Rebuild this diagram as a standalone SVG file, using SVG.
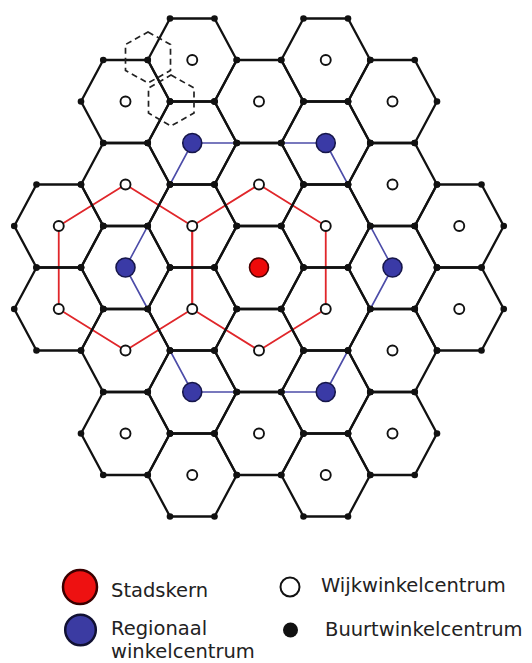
<svg xmlns="http://www.w3.org/2000/svg" width="532" height="663" viewBox="0 0 532 663">
<style>
.edge{fill:none;stroke:#111;stroke-width:2.3;stroke-linejoin:round}
.dot{fill:#111}
.wijk{fill:#fff;stroke:#111;stroke-width:1.9}
.reg{fill:#3a3aa6;stroke:#16164a;stroke-width:1.6}
.stad{fill:#ee0a0a;stroke:#4a0000;stroke-width:1.6}
.blue{fill:none;stroke:#4c4ca8;stroke-width:1.6;stroke-linejoin:round}
.red{fill:none;stroke:#e0262a;stroke-width:1.8;stroke-linejoin:round}
.dash{fill:none;stroke:#222;stroke-width:1.7;stroke-dasharray:6 4}
.lbl{font-family:"DejaVu Sans","Open Sans",sans-serif;font-size:19.5px;fill:#222}
</style>
<defs>
<g id="hex">
<polygon class="edge" points="-44.5,0 -22.25,-41.5 22.25,-41.5 44.5,0 22.25,41.5 -22.25,41.5"/>
<circle class="dot" cx="-44.5" cy="0" r="3.3"/>
<circle class="dot" cx="-22.25" cy="-41.5" r="3.3"/>
<circle class="dot" cx="22.25" cy="-41.5" r="3.3"/>
<circle class="dot" cx="44.5" cy="0" r="3.3"/>
<circle class="dot" cx="22.25" cy="41.5" r="3.3"/>
<circle class="dot" cx="-22.25" cy="41.5" r="3.3"/>
</g>
</defs>
<rect width="532" height="663" fill="#fff"/>

<g id="connectors">
<polygon class="blue" points="192.25,143 325.75,143 392.5,267.5 325.75,392 192.25,392 125.5,267.5"/>
<polygon class="red" points="58.75,226 125.5,184.5 192.25,226 192.25,309 125.5,350.5 58.75,309"/>
<polygon class="red" points="192.25,226 259,184.5 325.75,226 325.75,309 259,350.5 192.25,309"/>
</g>

<g id="grid">
<use href="#hex" x="58.75" y="226"/><use href="#hex" x="58.75" y="309"/>
<use href="#hex" x="125.5" y="101.5"/><use href="#hex" x="125.5" y="184.5"/><use href="#hex" x="125.5" y="267.5"/><use href="#hex" x="125.5" y="350.5"/><use href="#hex" x="125.5" y="433.5"/>
<use href="#hex" x="192.25" y="60"/><use href="#hex" x="192.25" y="143"/><use href="#hex" x="192.25" y="226"/><use href="#hex" x="192.25" y="309"/><use href="#hex" x="192.25" y="392"/><use href="#hex" x="192.25" y="475"/>
<use href="#hex" x="259" y="101.5"/><use href="#hex" x="259" y="184.5"/><use href="#hex" x="259" y="267.5"/><use href="#hex" x="259" y="350.5"/><use href="#hex" x="259" y="433.5"/>
<use href="#hex" x="325.75" y="60"/><use href="#hex" x="325.75" y="143"/><use href="#hex" x="325.75" y="226"/><use href="#hex" x="325.75" y="309"/><use href="#hex" x="325.75" y="392"/><use href="#hex" x="325.75" y="475"/>
<use href="#hex" x="392.5" y="101.5"/><use href="#hex" x="392.5" y="184.5"/><use href="#hex" x="392.5" y="267.5"/><use href="#hex" x="392.5" y="350.5"/><use href="#hex" x="392.5" y="433.5"/>
<use href="#hex" x="459.25" y="226"/><use href="#hex" x="459.25" y="309"/>
</g>

<g id="dashed-areas">
<polygon class="dash" points="148,32 170.5,44.5 170.5,70.5 148,83 125.5,70.5 125.5,44.5"/>
<polygon class="dash" points="171,75 194,88 194,113 171,126 148.5,113 148.5,88"/>
</g>

<g id="n-m3-226"><circle class="wijk" cx="58.75" cy="226" r="5"/></g>
<g id="n-m3-309"><circle class="wijk" cx="58.75" cy="309" r="5"/></g>
<g id="n-m2-101"><circle class="wijk" cx="125.5" cy="101.5" r="5"/></g>
<g id="n-m2-184"><circle class="wijk" cx="125.5" cy="184.5" r="5"/></g>
<g id="n-m2-267"><circle class="reg" cx="125.5" cy="267.5" r="9.5"/></g>
<g id="n-m2-350"><circle class="wijk" cx="125.5" cy="350.5" r="5"/></g>
<g id="n-m2-433"><circle class="wijk" cx="125.5" cy="433.5" r="5"/></g>
<g id="n-m1-60"><circle class="wijk" cx="192.25" cy="60" r="5"/></g>
<g id="n-m1-143"><circle class="reg" cx="192.25" cy="143" r="9.5"/></g>
<g id="n-m1-226"><circle class="wijk" cx="192.25" cy="226" r="5"/></g>
<g id="n-m1-309"><circle class="wijk" cx="192.25" cy="309" r="5"/></g>
<g id="n-m1-392"><circle class="reg" cx="192.25" cy="392" r="9.5"/></g>
<g id="n-m1-475"><circle class="wijk" cx="192.25" cy="475" r="5"/></g>
<g id="n-0-101"><circle class="wijk" cx="259" cy="101.5" r="5"/></g>
<g id="n-0-184"><circle class="wijk" cx="259" cy="184.5" r="5"/></g>
<g id="n-0-267"><circle class="stad" cx="259" cy="267.5" r="9.5"/></g>
<g id="n-0-350"><circle class="wijk" cx="259" cy="350.5" r="5"/></g>
<g id="n-0-433"><circle class="wijk" cx="259" cy="433.5" r="5"/></g>
<g id="n-p1-60"><circle class="wijk" cx="325.75" cy="60" r="5"/></g>
<g id="n-p1-143"><circle class="reg" cx="325.75" cy="143" r="9.5"/></g>
<g id="n-p1-226"><circle class="wijk" cx="325.75" cy="226" r="5"/></g>
<g id="n-p1-309"><circle class="wijk" cx="325.75" cy="309" r="5"/></g>
<g id="n-p1-392"><circle class="reg" cx="325.75" cy="392" r="9.5"/></g>
<g id="n-p1-475"><circle class="wijk" cx="325.75" cy="475" r="5"/></g>
<g id="n-p2-101"><circle class="wijk" cx="392.5" cy="101.5" r="5"/></g>
<g id="n-p2-184"><circle class="wijk" cx="392.5" cy="184.5" r="5" stroke-width="2.5"/></g>
<g id="n-p2-267"><circle class="reg" cx="392.5" cy="267.5" r="9.5"/></g>
<g id="n-p2-350"><circle class="wijk" cx="392.5" cy="350.5" r="5"/></g>
<g id="n-p2-433"><circle class="wijk" cx="392.5" cy="433.5" r="5"/></g>
<g id="n-p3-226"><circle class="wijk" cx="459.25" cy="226" r="5"/></g>
<g id="n-p3-309"><circle class="wijk" cx="459.25" cy="309" r="5"/></g>

<g id="legend">
<g id="legend-stadskern">
<circle cx="80" cy="587" r="17" fill="#ee1111" stroke="#3a0000" stroke-width="2.5"/>
<text class="lbl" x="111" y="597">Stadskern</text>
</g>
<g id="legend-regionaal">
<circle cx="80.5" cy="630" r="15.3" fill="#3b3ba2" stroke="#111133" stroke-width="2.5"/>
<text class="lbl"><tspan x="111" y="635">Regionaal</tspan><tspan x="111" y="658">winkelcentrum</tspan></text>
</g>
<g id="legend-wijk">
<circle cx="290" cy="587" r="9.5" fill="#fff" stroke="#111" stroke-width="2"/>
<text class="lbl" x="321" y="592">Wijkwinkelcentrum</text>
</g>
<g id="legend-buurt">
<circle cx="290.5" cy="630" r="7.5" fill="#111"/>
<text class="lbl" x="325" y="636">Buurtwinkelcentrum</text>
</g>
</g>
</svg>
